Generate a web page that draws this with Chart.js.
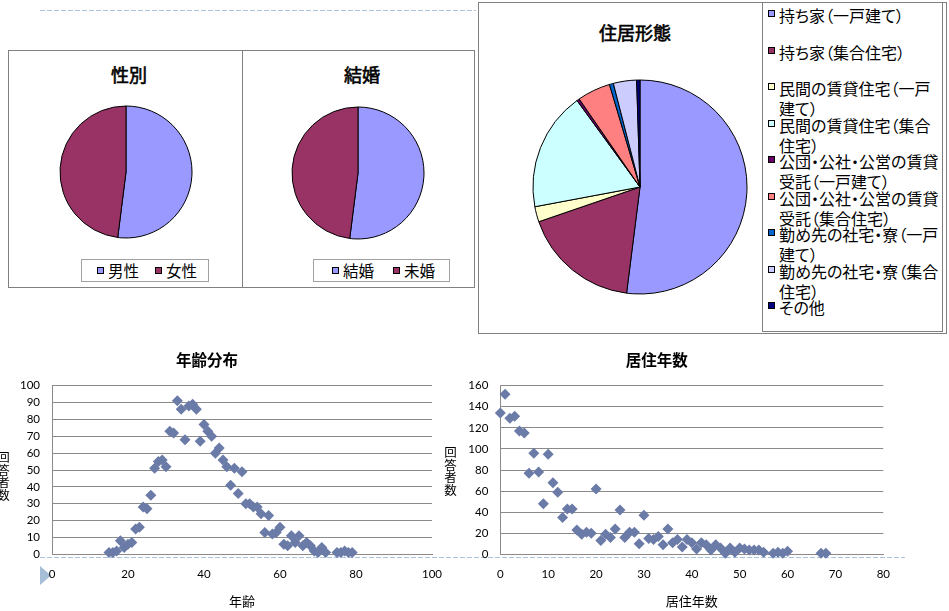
<!DOCTYPE html>
<html lang="ja">
<head>
<meta charset="utf-8">
<title>アンケート集計</title>
<script src="https://cdn.jsdelivr.net/npm/chart.js@4.4.1/dist/chart.umd.min.js"></script>
<style>
  html, body { margin: 0; padding: 0; background: #fff; }
  #page { position: relative; width: 949px; height: 611px; overflow: hidden; background: #fff;
          font-family: "Noto Sans CJK JP", sans-serif; color: #000; }
  #page > * { position: absolute; }
  .frame { border: 1px solid #808080; box-sizing: border-box; }
  .vline { width: 1px; background: #808080; }
  .pie-title { transform: translate(-50%, -50%); font-size: 18px; font-weight: normal; -webkit-text-stroke: 0.6px #000;
               white-space: nowrap; line-height: 1; }
  .legend-row { display: flex; align-items: center; box-sizing: border-box; border: 1px solid #a0a0a0; font-size: 15.5px; line-height: 1; }
  .legend-row .item { display: flex; align-items: center; }
  .swatch { width: 7px; height: 7px; border: 1px solid #000; box-sizing: border-box; flex: none; }
  .hl-item { width: 174px; font-size: 16px; line-height: 20px; font-feature-settings: "palt"; }
  .hl-item .swatch { position: absolute; left: 0; top: 5px; }
  .hl-item .text { margin-left: 11px; width: 160px; }
  .vtitle { writing-mode: vertical-rl; text-orientation: upright; font-size: 12.5px; line-height: 13px; }
</style>
</head>
<body>
<div id="page">
  <svg width="949" height="611" style="left:0;top:0">
    <line x1="40" y1="10.5" x2="476" y2="10.5" stroke="#A9C3DC" stroke-width="1.2" stroke-dasharray="5 2"/>
    <line x1="40" y1="557.5" x2="905" y2="557.5" stroke="#A9C3DC" stroke-width="1.2" stroke-dasharray="5 2"/>
    <polygon points="40,566 51,575.5 40,585" fill="#A6BED6"/>
  </svg>

  <!-- 性別・結婚 -->
  <div class="frame" style="left:8px;top:50px;width:467px;height:238px"></div>
  <div class="vline" style="left:242px;top:50px;height:238px"></div>
  <div class="pie-title" style="left:129px;top:74px">性別</div>
  <div class="pie-title" style="left:362px;top:74px">結婚</div>
  <canvas id="sexPie" width="160" height="160" style="left:46px;top:92px"></canvas>
  <canvas id="marriagePie" width="160" height="160" style="left:278px;top:93px"></canvas>
  <div id="sexLegend" class="legend-row" style="left:81px;top:259px;width:128px;height:23px;padding-left:15px"></div>
  <div id="marriageLegend" class="legend-row" style="left:313px;top:259px;width:137px;height:23px;padding-left:18px"></div>

  <!-- 住居形態 -->
  <div class="frame" style="left:478px;top:2px;width:469px;height:332px"></div>
  <div class="frame" style="left:762px;top:2px;width:181px;height:330px"></div>
  <div class="pie-title" style="left:635px;top:32px">住居形態</div>
  <canvas id="housingPie" width="240" height="240" style="left:520px;top:67px"></canvas>

  <!-- 散布図 -->
  <canvas id="ageChart" width="468" height="271" style="left:-18px;top:340px"></canvas>
  <canvas id="stayChart" width="470" height="271" style="left:430px;top:340px"></canvas>
  <div class="vtitle" style="left:-3px;top:451px">回答者数</div>
  <div class="vtitle" style="left:444px;top:446px">回答者数</div>
</div>

<script>
// ---- 集計データ ----
const sexLabels = ['男性', '女性'];
const sexValues = [52, 48];

const marriageLabels = ['結婚', '未婚'];
const marriageValues = [52, 48];

const housingLabels = [
  '持ち家（一戸建て）',
  '持ち家（集合住宅）',
  '民間の賃貸住宅（一戸建て）',
  '民間の賃貸住宅（集合住宅）',
  '公団・公社・公営の賃貸受託（一戸建て）',
  '公団・公社・公営の賃貸受託（集合住宅）',
  '勤め先の社宅・寮（一戸建て）',
  '勤め先の社宅・寮（集合住宅）',
  'その他'
];
const housingValues = [51.9, 17.7, 2.3, 17.9, 0.4, 5.0, 0.6, 3.5, 0.5];

// 年齢分布: 年齢 / 回答者数
const ageYears = [15, 16, 17, 18, 19, 20, 21, 22, 23, 24, 25, 26, 27, 28, 29, 30, 31, 32, 33, 34,
  35, 36, 37, 38, 39, 40, 41, 42, 43, 44, 45, 46, 47, 48, 49, 50, 51, 52, 53, 54,
  55, 56, 57, 58, 59, 60, 61, 62, 63, 64, 65, 66, 67, 68, 69, 70, 71, 72, 75, 76, 77, 78, 79];
const ageCounts = [1, 1, 2, 8, 4, 6, 7, 15, 16, 28, 27, 35, 51, 55, 56, 52, 73, 72, 91, 86,
  68, 88, 89, 86, 67, 77, 73, 70, 60, 63, 56, 52, 41, 51, 36, 49, 30, 30, 28, 28,
  24, 13, 23, 12, 13, 16, 6, 5, 11, 7, 11, 5, 7, 5, 2, 1, 4, 1, 1, 1, 2, 1, 1];

// 居住年数: 年数 / 回答者数
const stayYears = [0, 1, 2, 3, 4, 5, 6, 7, 8, 9, 10, 11, 12, 13, 14, 15, 16, 17, 18, 19,
  20, 21, 22, 23, 24, 25, 26, 27, 28, 29, 30, 31, 32, 33, 34, 35, 36, 37, 38, 39,
  40, 41, 42, 43, 44, 45, 46, 47, 48, 49, 50, 51, 52, 53, 54, 55, 57, 58, 59, 60, 67, 68];
const stayCounts = [134, 152, 129, 131, 117, 115, 77, 96, 78, 48, 95, 68, 59, 35, 43, 43, 23, 19, 21, 20,
  62, 13, 19, 16, 24, 42, 16, 21, 21, 10, 37, 15, 14, 17, 9, 24, 11, 14, 7, 14,
  11, 5, 11, 9, 4, 9, 6, 1, 6, 2, 6, 5, 4, 4, 4, 2, 1, 2, 1, 3, 1, 1];

// 目盛り
const ageXTicks = [0, 20, 40, 60, 80, 100];
const ageYTicks = [0, 10, 20, 30, 40, 50, 60, 70, 80, 90, 100];
const stayXTicks = [0, 10, 20, 30, 40, 50, 60, 70, 80];
const stayYTicks = [0, 20, 40, 60, 80, 100, 120, 140, 160];

// ---- 配色 ----
const twoColors = ['#9999FF', '#993366'];
const housingColors = ['#9999FF', '#993366', '#FFFFCC', '#CCFFFF', '#660066',
  '#FF8080', '#0066CC', '#CCCCFF', '#000080'];
const markerColor = '#6B7BA8';
const gridColor = '#8A8A8A';
const clear = 'rgba(0,0,0,0)';

// ---- 円グラフ ----
function drawPie(id, labels, values, colors, radius) {
  return new Chart(document.getElementById(id), {
    type: 'pie',
    data: {
      labels: labels,
      datasets: [{
        data: values,
        backgroundColor: colors,
        borderColor: '#000',
        borderWidth: 1,
        hoverOffset: 0,
        hoverBorderWidth: 1
      }]
    },
    options: {
      responsive: false,
      animation: false,
      events: [],
      radius: radius,
      layout: { padding: 0 },
      plugins: { legend: { display: false }, tooltip: { enabled: false } }
    }
  });
}

drawPie('sexPie', sexLabels, sexValues, twoColors, 66);
drawPie('marriagePie', marriageLabels, marriageValues, twoColors, 66);
drawPie('housingPie', housingLabels, housingValues, housingColors, 107);

// 横並びの凡例
function rowLegend(id, labels, colors, gap) {
  const box = document.getElementById(id);
  labels.forEach((label, i) => {
    const item = document.createElement('div');
    item.className = 'item';
    if (i > 0) item.style.marginLeft = gap + 'px';
    const sw = document.createElement('span');
    sw.className = 'swatch';
    sw.style.background = colors[i];
    const tx = document.createElement('span');
    tx.textContent = label;
    tx.style.marginLeft = '4px';
    item.appendChild(sw);
    item.appendChild(tx);
    box.appendChild(item);
  });
}
rowLegend('sexLegend', sexLabels, twoColors, 16);
rowLegend('marriageLegend', marriageLabels, twoColors, 19);

// 縦並びの凡例（住居形態）
(function () {
  const page = document.getElementById('page');
  housingLabels.forEach((label, i) => {
    const item = document.createElement('div');
    item.className = 'hl-item';
    item.style.left = '768px';
    item.style.top = (5 + 36.5 * i) + 'px';
    const sw = document.createElement('span');
    sw.className = 'swatch';
    sw.style.background = housingColors[i];
    const tx = document.createElement('div');
    tx.className = 'text';
    tx.textContent = label;
    item.appendChild(sw);
    item.appendChild(tx);
    page.appendChild(item);
  });
})();

// ---- 散布図 ----
function drawScatter(id, title, xTitle, xs, ys, xTicks, yTicks, yAxisWidth, rightPad) {
  const tickFont = { family: 'Lato', size: 11.5 };
  return new Chart(document.getElementById(id), {
    type: 'scatter',
    data: {
      datasets: [{
        data: xs.map((x, i) => ({ x: x, y: ys[i] })),
        pointStyle: 'rectRot',
        pointRadius: 5.5,
        pointHoverRadius: 5.5,
        backgroundColor: markerColor,
        borderWidth: 0,
        clip: false
      }]
    },
    options: {
      responsive: false,
      animation: false,
      events: [],
      layout: { padding: { left: 0, right: rightPad, top: 0, bottom: 0 } },
      plugins: {
        legend: { display: false },
        tooltip: { enabled: false },
        title: {
          display: true,
          text: title,
          color: '#000',
          font: { family: 'Noto Sans CJK JP', size: 15.5, weight: 'bold' },
          padding: { top: 10.7, bottom: 16.4 }
        }
      },
      scales: {
        x: {
          type: 'linear',
          min: xTicks[0],
          max: xTicks[xTicks.length - 1],
          afterBuildTicks: s => { s.ticks = xTicks.map(v => ({ value: v })); },
          afterFit: s => { s.height = 56.7; },
          // invisible tick marks keep the labels clear of the axis line
          grid: { display: true, color: clear, tickColor: clear, drawTicks: true, tickLength: 13 },
          border: { display: true, color: gridColor, width: 1 },
          ticks: { color: '#000', font: tickFont, padding: 0, maxRotation: 0, autoSkip: false },
          title: {
            display: true,
            text: xTitle,
            color: '#000',
            font: { family: 'Noto Sans CJK JP', size: 13 },
            padding: { top: 0, bottom: 2 }
          }
        },
        y: {
          type: 'linear',
          min: yTicks[0],
          max: yTicks[yTicks.length - 1],
          afterBuildTicks: s => { s.ticks = yTicks.map(v => ({ value: v })); },
          afterFit: s => { s.width = yAxisWidth; },
          grid: { color: gridColor, lineWidth: 1, drawTicks: false },
          border: { display: true, color: gridColor, width: 1 },
          ticks: { color: '#000', font: tickFont, padding: 12 }
        }
      }
    }
  });
}

drawScatter('ageChart', '年齢分布', '年齢', ageYears, ageCounts, ageXTicks, ageYTicks, 70, 18);
drawScatter('stayChart', '居住年数', '居住年数', stayYears, stayCounts, stayXTicks, stayYTicks, 70.3, 16.7);
</script>
</body>
</html>
